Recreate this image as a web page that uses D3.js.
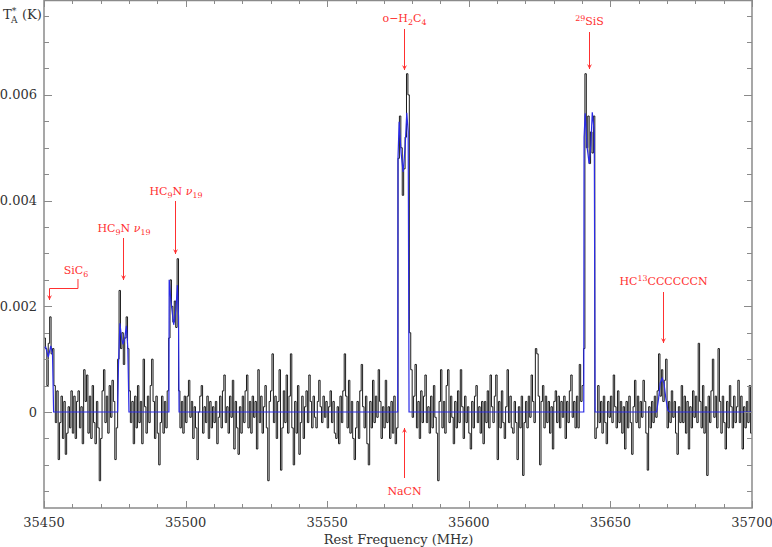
<!DOCTYPE html>
<html><head><meta charset="utf-8">
<script src="https://cdn.jsdelivr.net/npm/d3@7"></script>
<style>body{margin:0;background:#fff}</style>
</head><body><svg id="c" width="772" height="547"></svg>
<script>
// ---------- data ----------
const freqStart = 35450;     // MHz, first channel
const chanWidth = 0.5;       // MHz
const unit = 1e-4;           // values below are in units of 1e-4 K
const observed = [
 14, 12, 5, 13, 18, 11, 12, 5, -2, 4,
 -9, -2, 3, -5, 2, -8, -4, 1, -3, 4,
 -4, 3, -5, 2, 4, -3, 1, -6, 8, 2,
 7, -4, 3, -5, 5, -2, -6, 2, -3, -13,
 -5, 4, 8, -2, 3, -4, 5, -1, 6, 2,
 -9, -3, 10, 23, 12, 15, 9, 14, 18, 12,
 4, -2, 2, -6, 3, -3, 5, -2, 2, -6,
 10, 1, -4, 3, -2, 5, 10, 2, -5, 3,
 -4, -10, -2, 3, -4, 2, -3, 4, 14, 25,
 20, 17, 21, 16, 29, 4, -3, 2, -4, 3,
 -2, 3, 6, -1, 2, -5, 1, -3, -9, 0,
 3, 5, -4, 1, -2, 3, -5, 2, -3, 1,
 -2, 2, -6, -1, 3, -3, 4, 7, -2, 1,
 -4, 3, -1, 6, -7, 2, -3, -8, 1, -4,
 3, -2, 4, 7, -3, 2, -4, 3, -1, 2,
 -7, 8, -2, 3, -4, 1, 5, -3, -13, 2,
 4, 11, -2, 3, -5, 2, 8, -11, -3, 4,
 -2, 7, -4, 3, 11, -3, -10, 2, -4, 5,
 -8, -2, 3, -5, 1, 4, -2, 7, 2, -3,
 3, -1, -3, 2, 6, 1, -2, 3, -1, 2,
 -3, 1, 4, -2, 2, -4, -5, 1, -6, 3,
 -2, 4, 11, 3, -3, 6, -4, 2, -5, -9,
 -3, 2, -5, 4, 9, 1, -3, 3, -6, -10,
 2, -3, 6, -2, 3, -1, 8, 2, -5, 1,
 -3, 6, -2, 1, -5, 2, -4, 3, -6, -3,
 48, 56, 50, 41, 46, 52, 64, 60, 15, 8,
 -1, 3, 9, -3, 2, -5, 4, -2, 3, 7,
 -2, 1, -4, 3, -3, 5, -1, -4, -13, 2,
 8, -3, 2, -4, 5, 8, -2, 3, -1, -6,
 2, -3, 4, -2, 8, 1, -5, 3, -2, 1,
 -4, -7, 2, -3, 3, 5, -2, 1, -4, 2,
 -6, 2, -2, 4, -3, 7, 1, -2, 3, 7,
 -9, 2, -3, 4, -2, -5, 1, 8, -2, 3,
 -3, -4, 2, -2, -9, 1, -3, 3, -12, -2,
 2, -3, 3, -1, 7, 2, -2, 12, 11, 3,
 -10, 2, 5, -3, 3, -2, 2, -4, 1, -7,
 2, 4, -2, 3, -3, 2, -1, 3, -5, 2,
 -2, 4, 7, -1, 2, -3, 3, -3, 9, 2,
 5, 12, 64, 50, 56, 47, 53, 49, 56, -5,
 -3, 5, -2, 2, -4, 3, -2, -6, 2, -1,
 3, -2, 7, 1, -3, 4, -2, 2, -4, 1,
 -7, 2, -3, 3, -2, -8, 1, 6, -2, 3,
 -3, 2, -1, 6, 2, -4, -11, 1, -3, 2,
 -2, 3, -1, 4, 11, 3, 8, 2, 6, 10,
 -3, 2, -2, 4, -1, 2, -4, -8, 1, -2,
 5, -2, 3, -4, 2, -7, 1, -3, 4, -1,
 3, -2, 13, 2, -3, 5, -4, 1, -12, 3,
 -2, 4, 10, -1, 3, -3, 12, 2, -4, 3,
 -2, -7, 2, -3, 5, 1, -3, 3, -2, 1,
 6, -2, 3, -7, 1, -3, 2, -2, 5, -4
];
// fitted model (blue), frequency in MHz and value in 1e-4 K
const modelFreq = [
 35449.0, 35450.6, 35451.5, 35452.4, 35453.0, 35453.4,
 35476.0, 35476.3, 35476.8, 35477.4, 35477.9, 35478.5, 35479.1, 35479.6, 35480.0,
 35494.1, 35494.2, 35494.8, 35495.8, 35496.6, 35497.1, 35497.5, 35497.7,
 35574.9, 35575.0, 35575.4, 35576.1, 35576.8, 35577.5, 35578.1, 35578.6, 35578.9,
 35640.6, 35640.7, 35641.1, 35641.8, 35642.5, 35643.1, 35643.6, 35644.3, 35644.6,
 35666.3, 35667.0, 35667.6, 35668.3, 35668.9, 35669.6, 35670.3, 35671.0,
 35700.5
];
const modelVal = [
 12, 12.3, 10.4, 12.5, 11, 0,
 0, 9, 16.8, 14, 12.8, 14, 16.3, 12, 0,
 0, 25, 21, 16.5, 19.5, 24, 18, 0,
 0, 48, 54.9, 49, 45.4, 50, 56.6, 53, 0,
 0, 52, 56.5, 50, 47, 50.5, 56.7, 53, 0,
 0, 2.5, 5.5, 6.4, 5.5, 2.5, 0.3, 0,
 0
];
const xTicks = [35450, 35500, 35550, 35600, 35650, 35700];
const xTickLabels = ["35450", "35500", "35550", "35600", "35650", "35700"];
const yTicks = [0, 0.002, 0.004, 0.006];
const yTickLabels = ["0", "0.002", "0.004", "0.006"];
// line identifications: frequency of arrow (MHz)
const lineNames = ["SiC6", "HC9N v19 a", "HC9N v19 b", "o-H2C4", "29SiS", "HC13CCCCCCN", "NaCN"];
const lineFreqs = [35451.8, 35478.0, 35496.15, 35577.1, 35642.4, 35668.7, 35577.1];

// ---------- layout ----------
const W = 772, H = 547;
const L = 44, R = 752, T = 0, B = 508;
const svg = d3.select("#c");
const x = d3.scaleLinear().domain([35450, 35700]).range([L, R]);
const y = d3.scaleLinear().domain([-0.001816, 0.007795]).range([B, T]);
const font = "'DejaVu Serif', serif";
const axisCol = "#8a8a8a", textCol = "#333";
const red = "#ff3030";

svg.append("defs").append("clipPath").attr("id", "clip")
  .append("rect").attr("x", L).attr("y", T).attr("width", R - L).attr("height", B - T);

// ---------- spectrum ----------
const obsPts = observed.map((v, i) => [freqStart + i * chanWidth, v * unit]);
obsPts.push([freqStart + observed.length * chanWidth, observed[observed.length - 1] * unit]);
const g = svg.append("g").attr("clip-path", "url(#clip)");
g.append("path").datum(obsPts)
  .attr("d", d3.line().x(d => x(d[0])).y(d => y(d[1])).curve(d3.curveStepAfter))
  .attr("fill", "none").attr("stroke", "#1c1c1c").attr("stroke-width", 1);
const modPts = modelFreq.map((f, i) => [f, modelVal[i] * unit]);
g.append("path").datum(modPts)
  .attr("d", d3.line().x(d => x(d[0])).y(d => y(d[1])))
  .attr("fill", "none").attr("stroke", "#2a2ae6").attr("stroke-width", 1.2);

// ---------- frame & ticks ----------
svg.append("rect").attr("x", L).attr("y", T + 0.5).attr("width", R - L).attr("height", B - T - 0.5)
  .attr("fill", "none").attr("stroke", axisCol).attr("stroke-width", 1.5);

const xMinor = d3.range(35450, 35700.1, 10);
const yMinor = d3.range(-0.0015, 0.00751, 0.0005);
const tk = svg.append("g").attr("stroke", axisCol).attr("stroke-width", 1);
xMinor.forEach(f => {
  const major = xTicks.some(t => Math.abs(t - f) < 1e-6);
  const len = major ? 7 : 4;
  const px = Math.round(x(f)) + 0.5;
  tk.append("line").attr("x1", px).attr("x2", px).attr("y1", B).attr("y2", B - len);
  tk.append("line").attr("x1", px).attr("x2", px).attr("y1", T).attr("y2", T + len);
});
yMinor.forEach(v => {
  const major = yTicks.some(t => Math.abs(t - v) < 1e-9);
  const len = major ? 8 : 5;
  const py = Math.round(y(v)) + 0.5;
  tk.append("line").attr("x1", L).attr("x2", L + len).attr("y1", py).attr("y2", py);
  tk.append("line").attr("x1", R).attr("x2", R - len).attr("y1", py).attr("y2", py);
});

// tick labels
xTicks.forEach((t, i) => {
  svg.append("text").attr("x", x(t)).attr("y", 527).attr("text-anchor", "middle")
    .attr("font-family", font).attr("font-size", 13).attr("fill", textCol).text(xTickLabels[i]);
});
yTicks.forEach((t, i) => {
  svg.append("text").attr("x", 37).attr("y", y(t) + 4.5).attr("text-anchor", "end")
    .attr("font-family", font).attr("font-size", 13).attr("fill", textCol).text(yTickLabels[i]);
});
svg.append("text").attr("x", (L + R) / 2 + 0.5).attr("y", 544).attr("text-anchor", "middle")
  .attr("font-family", font).attr("font-size", 13).attr("fill", textCol).text("Rest Frequency (MHz)");

// rich text helper: segments [text, kind]
function rich(sel, segs, size) {
  let shift = 0;
  segs.forEach(([t, k]) => {
    let target = 0, fs = size;
    if (k === "sub") { target = size * 0.3; fs = size * 0.72; }
    if (k === "sup") { target = -size * 0.38; fs = size * 0.72; }
    const ts = sel.append("tspan").text(t).attr("font-size", fs).attr("dy", target - shift);
    if (k === "it") ts.attr("font-style", "italic");
    shift = target;
  });
}
// y title
const yt = svg.append("text").attr("x", 3).attr("y", 19).attr("font-family", font)
  .attr("fill", textCol);
rich(yt, [["T", "n"], ["*", "sup"], ["", "n"]], 13);
svg.append("text").attr("x", 11).attr("y", 23).attr("font-family", font).attr("font-size", 9)
  .attr("fill", textCol).text("A");
svg.append("text").attr("x", 22).attr("y", 19).attr("font-family", font).attr("font-size", 13)
  .attr("fill", textCol).text("(K)");

// ---------- annotations ----------
const ann = svg.append("g");
function label(cx, by, segs) {
  const t = ann.append("text").attr("x", cx).attr("y", by).attr("text-anchor", "middle")
    .attr("font-family", font).attr("fill", red);
  rich(t, segs, 11);
}
function arrow(pts, down) {
  ann.append("path").attr("d", d3.line()(pts)).attr("fill", "none").attr("stroke", red).attr("stroke-width", 1);
  const [tx, ty] = pts[pts.length - 1];
  const s = down ? -1 : 1;
  ann.append("path").attr("d", `M${tx - 2.5},${ty + s * 5}L${tx},${ty}L${tx + 2.5},${ty + s * 5}L${tx},${ty + s * 3}Z`)
    .attr("fill", red).attr("stroke", "none");
}
const xa = lineFreqs.map(f => Math.round(x(f)) + 0.5);
// SiC6
label(76, 274, [["SiC", "n"], ["6", "sub"]]);
arrow([[x(35462.0), 279], [x(35462.0), 288.5], [xa[0], 288.5], [xa[0], 300]], true);
// HC9N v19 (a)
label(xa[1] + 0.5, 232, [["HC", "n"], ["9", "sub"], ["N  ", "n"], ["ν", "it"], ["19", "sub"]]);
arrow([[xa[1], 238], [xa[1], 280]], true);
// HC9N v19 (b)
label(xa[2] + 0.5, 195, [["HC", "n"], ["9", "sub"], ["N  ", "n"], ["ν", "it"], ["19", "sub"]]);
arrow([[xa[2], 201], [xa[2], 254]], true);
// o-H2C4
label(xa[3], 22, [["o−H", "n"], ["2", "sub"], ["C", "n"], ["4", "sub"]]);
arrow([[xa[3], 29], [xa[3], 70]], true);
// 29SiS
label(xa[4], 25, [["29", "sup"], ["SiS", "n"]]);
arrow([[xa[4], 32], [xa[4], 69]], true);
// HC13CCCCCCN
label(xa[5], 285, [["HC", "n"], ["13", "sup"], ["CCCCCCN", "n"]]);
arrow([[xa[5], 292], [xa[5], 343]], true);
// NaCN
label(xa[6], 495, [["NaCN", "n"]]);
arrow([[xa[6], 478], [xa[6], 428]], false);
</script>
</body></html>
